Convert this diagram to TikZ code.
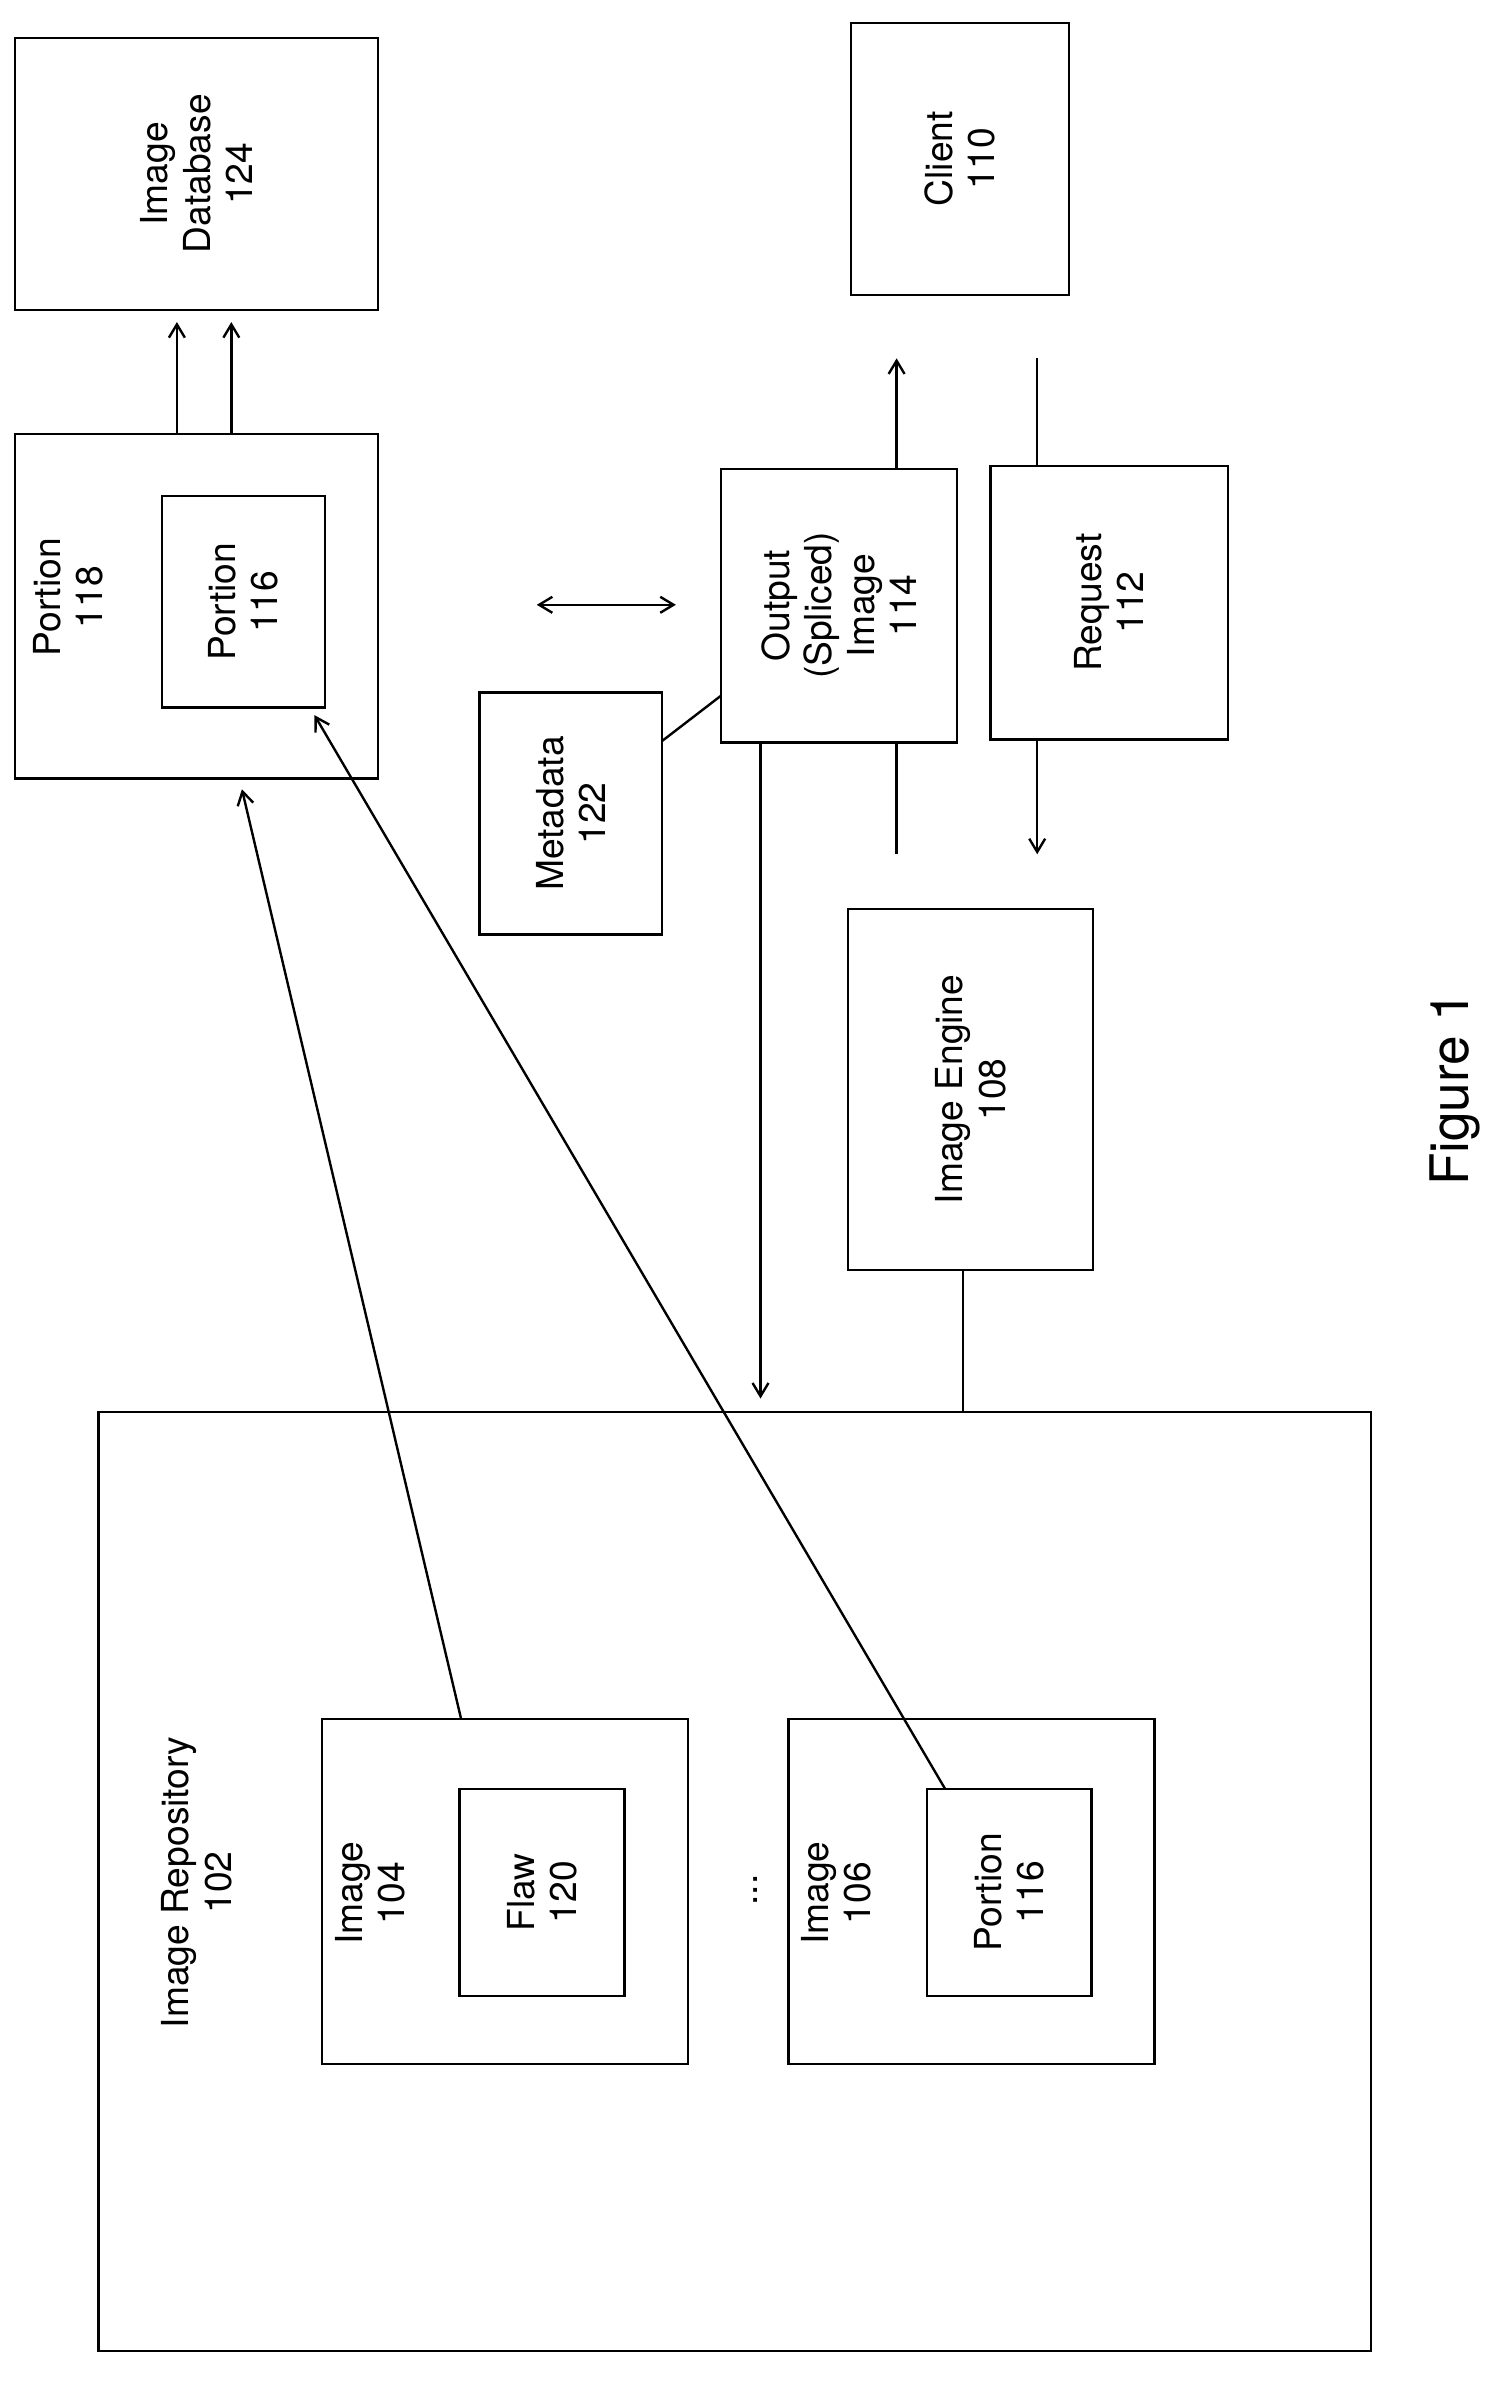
\documentclass[tikz,border=0pt]{standalone}
\usepackage{fontspec}
\setmainfont{TeX Gyre Heros}
\usetikzlibrary{arrows.meta,calc}
\begin{document}
\begin{tikzpicture}[x=0.02cm,y=-0.02cm,line width=0.9pt,
  box/.style={draw,line width=0.9pt,inner sep=0pt},
  lbl/.style={rotate=90,align=center,font=\fontsize{14}{16}\selectfont},
  arr/.style={-{Straight Barb[length=5pt,width=6pt]}},
  darr/.style={{Straight Barb[length=5pt,width=6pt]}-{Straight Barb[length=5pt,width=6pt]}}]
\useasboundingbox (0,0) rectangle (1000,1579.4);
% boxes
\node[box,minimum width=4.8cm,minimum height=3.6cm] (db) at (130,115) {};
\node[lbl] at (db) {Image\\Database\\124};
\node[box,minimum width=2.88cm,minimum height=3.6cm] (client) at (635,105) {};
\node[lbl] at (client) {Client\\110};
\node[box,minimum width=4.8cm,minimum height=4.56cm] (p118) at (130,401) {};
\node[lbl] at (45,395) {Portion\\118};
\node[box,minimum width=2.16cm,minimum height=2.8cm] (p116a) at (161,398) {};
\node[lbl] at (p116a) {Portion\\116};
\node[box,minimum width=2.42cm,minimum height=3.2cm] (meta) at (377.5,538) {};
\node[lbl] at (meta) {Metadata\\122};
\node[box,minimum width=3.12cm,minimum height=3.62cm] (out) at (555,400.5) {};
\node[lbl] at (out) {Output\\(Spliced)\\Image\\114};
\node[box,minimum width=3.14cm,minimum height=3.62cm] (req) at (733.5,398.5) {};
\node[lbl] at (req) {Request\\112};
\node[box,minimum width=3.24cm,minimum height=4.78cm] (eng) at (642,720.5) {};
\node[lbl] at (eng) {Image Engine\\108};
\node[box,minimum width=16.84cm,minimum height=12.42cm] (repo) at (486,1244.5) {};
\node[lbl] at (130,1245) {Image Repository\\102};
\node[box,minimum width=4.84cm,minimum height=4.56cm] (i104) at (334,1251) {};
\node[lbl] at (245,1252) {Image\\104};
\node[box,minimum width=2.18cm,minimum height=2.74cm] (flaw) at (358.5,1251.5) {};
\node[lbl] at (flaw) {Flaw\\120};
\node[box,minimum width=4.84cm,minimum height=4.56cm] (i106) at (642.5,1251) {};
\node[lbl] at (553,1252) {Image\\106};
\node[box,minimum width=2.18cm,minimum height=2.74cm] (p116b) at (667.5,1251.5) {};
\node[lbl] at (p116b) {Portion\\116};
\node[lbl] (dots) at (500,1250) {...};
\node[rotate=90,font=\fontsize{20}{24}\selectfont] (fig) at (962,720) {Figure 1};
% connectors
\coordinate (u1) at (117,213); \coordinate (u2) at (153,213);
\draw[arr] (p118.north -| u1) -- (u1);
\draw[arr] (p118.north -| u2) -- (u2);
\coordinate (d1) at (355,400); \coordinate (d2) at (447,400);
\draw[darr] (d1) -- (d2);
\draw (438,490) -- (477,460);
\coordinate (c1) at (593,237);
\draw[arr] (out.north -| c1) -- (c1);
\coordinate (c2) at (593,565);
\draw (out.south -| c2) -- (c2);
\coordinate (r1) at (686,237);
\draw (r1) -- (req.north -| r1);
\coordinate (r2) at (686,565);
\draw[arr] (req.south -| r2) -- (r2);
\coordinate (e1) at (637,934);
\draw (eng.south -| e1) -- (e1);
\coordinate (o1) at (503,925);
\draw[arr] (out.south -| o1) -- (o1);
\coordinate (a1) at (305,1137); \coordinate (a2) at (160,522);
\draw[arr] (a1) -- (a2);
\coordinate (b1) at (625,1183); \coordinate (b2) at (208,473);
\draw[arr] (b1) -- (b2);
\end{tikzpicture}
\end{document}
